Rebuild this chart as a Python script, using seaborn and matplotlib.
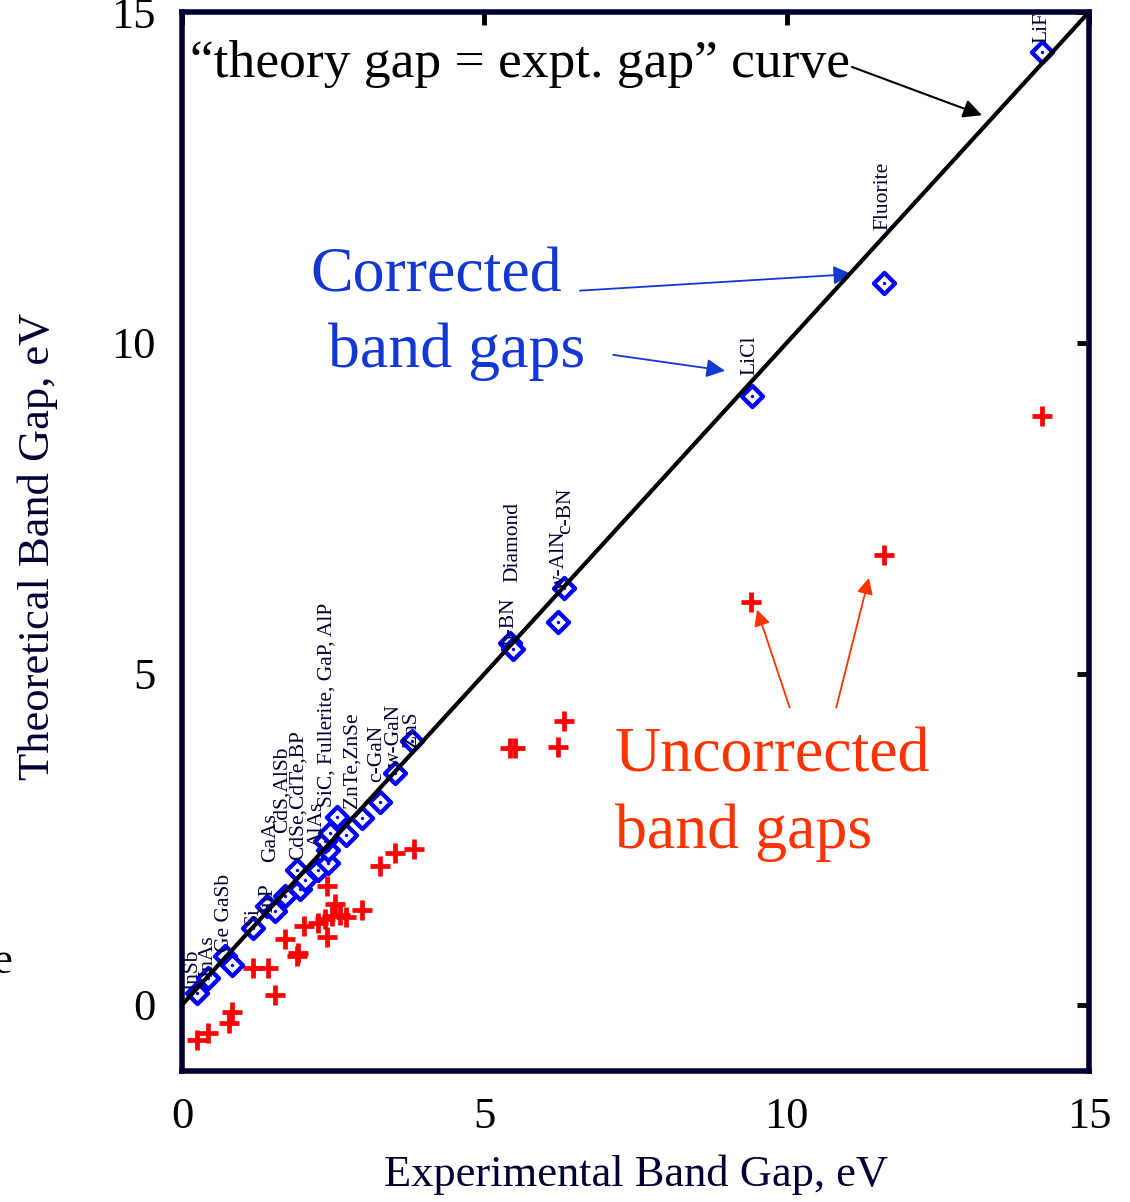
import matplotlib
matplotlib.use("Agg")
import matplotlib.pyplot as plt
import seaborn as sns
import pandas as pd

# ---- data -------------------------------------------------------------
# experimental gap (eV) vs. theoretical gap (eV)
corrected_x = [0.24, 0.43, 0.71, 0.82, 1.18, 1.40, 1.54, 1.70, 1.90, 1.95,
               2.03, 2.25, 2.42, 2.42, 2.36, 2.45, 2.56, 2.72, 2.97, 3.27,
               3.52, 3.80, 5.42, 5.48, 6.22, 6.31, 9.42, 11.61, 14.22]
corrected_y = [0.18, 0.40, 0.73, 0.60, 1.16, 1.50, 1.41, 1.64, 2.03, 1.75,
               1.89, 2.03, 2.15, 2.34, 2.48, 2.59, 2.84, 2.57, 2.83, 3.07,
               3.50, 3.98, 5.46, 5.37, 5.79, 6.29, 9.20, 10.90, 14.40]

uncorrected_x = [0.24, 0.43, 0.77, 0.82, 1.54, 1.18, 1.43, 1.70, 1.92, 1.90,
                 2.01, 2.25, 2.36, 2.39, 2.48, 2.53, 2.61, 2.72, 2.97, 2.39,
                 3.27, 3.52, 3.83, 5.43, 5.50, 6.22, 6.32, 9.41, 11.61, 14.22]
uncorrected_y = [-0.53, -0.42, -0.28, -0.11, 0.15, 0.55, 0.56, 0.99, 0.79, 0.74,
                 1.19, 1.24, 1.30, 1.03, 1.34, 1.52, 1.36, 1.32, 1.44, 1.79,
                 2.09, 2.29, 2.36, 3.88, 3.88, 3.89, 4.29, 6.09, 6.80, 8.89]

parity_x = [0, 15]
parity_y = [0, 15]

# material labels: text, x, y (anchor at the bottom of the rotated label)
material_names = ["InSb", "InAs", "Ge GaSb", "Si", "InP", "GaAs", "CdS,AlSb",
                  "CdSe,CdTe,BP", "AlAs", "SiC, Fullerite, GaP, AlP",
                  "ZnTe,ZnSe", "c-GaN", "w-GaN", "ZnS", "h-BN", "Diamond",
                  "w-AlN", "c-BN", "LiCl", "Fluorite", "LiF"]
material_x = [0.18, 0.43, 0.71, 1.17, 1.41, 1.46, 1.65, 1.92, 2.23, 2.40,
              2.81, 3.22, 3.52, 3.80, 5.42, 5.47, 6.25, 6.35, 9.39, 11.59, 14.22]
material_y = [0.23, 0.42, 0.80, 1.21, 1.39, 2.16, 2.60, 2.19, 2.39, 2.99,
              2.98, 3.37, 3.60, 3.90, 5.44, 6.39, 6.27, 7.12, 9.52, 11.71, 14.53]

x_ticks = [0, 5, 10, 15]
y_ticks = [0, 5, 10, 15]

# ---- style ------------------------------------------------------------
sns.set_theme(style="white")
plt.rcParams["font.family"] = ["Liberation Serif", "DejaVu Serif"]

NAVY = "#000033"
BLUE = "#0000ff"
TEXT_BLUE = "#1238d4"
RED = "#ff0000"
ORANGE = "#ff3300"

W, H = 1130, 1202
fig = plt.figure(figsize=(W / 100, H / 100), dpi=100)
ax = fig.add_axes([182 / W, 131 / H, (1089 - 182) / W, (1071 - 12) / H])

df_c = pd.DataFrame({"expt": corrected_x, "theory": corrected_y})
df_u = pd.DataFrame({"expt": uncorrected_x, "theory": uncorrected_y})
df_line = pd.DataFrame({"expt": parity_x, "theory": parity_y})

sns.scatterplot(data=df_u, x="expt", y="theory", marker="+", s=200,
                color=RED, linewidth=3.4, ax=ax, zorder=2, legend=False)
sns.scatterplot(data=df_c, x="expt", y="theory", marker="D", s=115,
                color="white", edgecolor=BLUE, linewidth=3.1, ax=ax,
                zorder=3, legend=False)
sns.scatterplot(data=df_c, x="expt", y="theory", marker="o", s=6,
                color=BLUE, edgecolor=BLUE, linewidth=0, ax=ax, zorder=3,
                legend=False)
sns.lineplot(data=df_line, x="expt", y="theory", color="black", lw=3,
             ax=ax, zorder=4, legend=False)

for name, lx, ly in zip(material_names, material_x, material_y):
    ax.text(lx, ly, name, rotation=90, ha="center", va="bottom",
            fontsize=15.5, color=NAVY, zorder=5, clip_on=True)

# ---- axes -------------------------------------------------------------
ax.set_xlim(0, 15)
ax.set_ylim(-1, 15)
ax.set_xticks(x_ticks)
ax.set_yticks(y_ticks)
ax.set_xticklabels([str(t) for t in x_ticks])
ax.set_yticklabels([str(t) for t in y_ticks])
ax.tick_params(direction="in", top=True, right=True, length=9, width=3.5,
               color="black", labelsize=32, pad=19, labelcolor="black")
for sp in ax.spines.values():
    sp.set_color(NAVY)
    sp.set_linewidth(4)

ax.set_xlabel("Experimental Band Gap, eV", fontsize=32, color=NAVY)
ax.set_ylabel("Theoretical Band Gap, eV", fontsize=32, color=NAVY)
ax.xaxis.set_label_coords(0.5, -0.079)
ax.yaxis.set_label_coords(-0.137, 0.495)

# ---- annotations ------------------------------------------------------
ax.text(0.13, 14.02, "\u201ctheory gap = expt. gap\u201d curve", fontsize=38.5,
        color="black", ha="left", va="baseline", zorder=6)
ax.annotate("", xy=(13.23, 13.44), xytext=(11.08, 14.17),
            arrowprops=dict(arrowstyle="-|>", color="black", lw=1.5,
                            mutation_scale=28, shrinkA=0, shrinkB=0))

ax.text(2.12, 10.77, "Corrected", fontsize=46, color=TEXT_BLUE,
        ha="left", va="baseline")
ax.text(2.41, 9.64, "band gaps", fontsize=46, color=TEXT_BLUE,
        ha="left", va="baseline")
ax.annotate("", xy=(11.08, 11.04), xytext=(6.58, 10.79),
            arrowprops=dict(arrowstyle="-|>", color=TEXT_BLUE, lw=1.3,
                            mutation_scale=28, shrinkA=0, shrinkB=0))
ax.annotate("", xy=(8.98, 9.58), xytext=(7.13, 9.82),
            arrowprops=dict(arrowstyle="-|>", color=TEXT_BLUE, lw=1.3,
                            mutation_scale=28, shrinkA=0, shrinkB=0))

ax.text(7.16, 3.52, "Uncorrected", fontsize=46, color=ORANGE,
        ha="left", va="baseline")
ax.text(7.16, 2.37, "band gaps", fontsize=46, color=ORANGE,
        ha="left", va="baseline")
ax.annotate("", xy=(9.51, 5.97), xytext=(10.05, 4.49),
            arrowprops=dict(arrowstyle="-|>", color=ORANGE, lw=1.3,
                            mutation_scale=24, shrinkA=0, shrinkB=0))
ax.annotate("", xy=(11.36, 6.45), xytext=(10.82, 4.49),
            arrowprops=dict(arrowstyle="-|>", color=ORANGE, lw=1.3,
                            mutation_scale=24, shrinkA=0, shrinkB=0))

# fragment of a neighbouring caption at the left edge
fig.text(12 / W, 1 - 973 / H, "e", fontsize=32, color="black",
         ha="right", va="baseline")

fig.savefig("out.png", dpi=100)
